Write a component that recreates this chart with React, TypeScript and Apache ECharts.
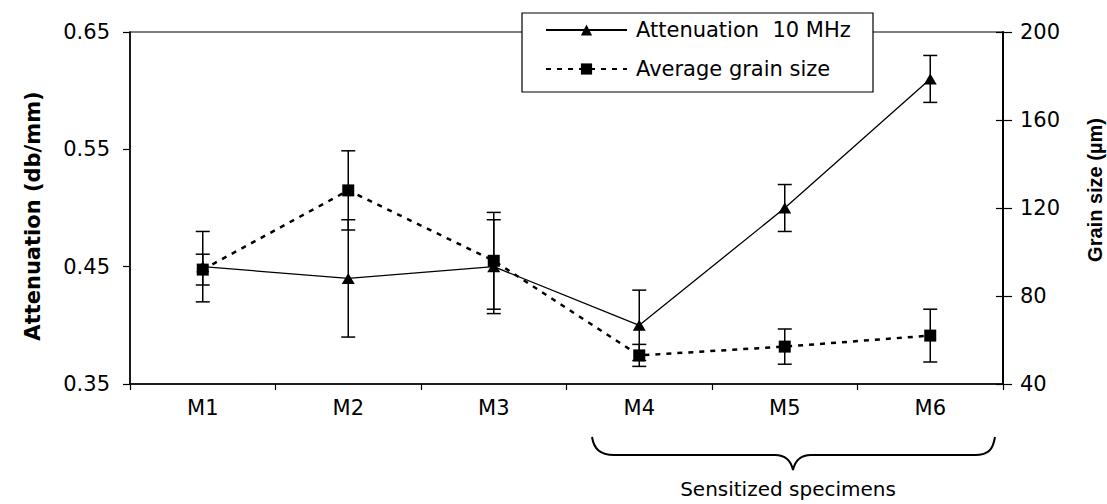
import React, { useEffect, useRef } from "react";
import * as echarts from "echarts";

// Specimens and measured values
const categories = ["M1", "M2", "M3", "M4", "M5", "M6"];
const attenuation = [0.45, 0.44, 0.45, 0.4, 0.5, 0.61];
const attenuationErr = [0.03, 0.05, 0.04, 0.03, 0.02, 0.02];
const grainSize = [92, 128, 96, 53, 57, 62];
const grainSizeErr = [7, 18, 22, 5, 8, 12];

const attenuationName = "Attenuation  10 MHz";
const grainName = "Average grain size";
const groupLabel = "Sensitized specimens";

// Curly brace under the sensitized specimens (M4–M6)
const braceD =
  "M0 0 C2 12 8 18 22 18 L183 18 C193 18 199 24 201 33 C203 24 209 18 219 18 L383 18 C397 18 401 12 403 0";
echarts.graphic.registerShape("brace", echarts.graphic.extendPath(braceD, {}));

const FONT = "DejaVu Sans";

const errorBarItem = (_params: any, api: any) => {
  const x = api.value(0);
  const lo = api.coord([x, api.value(1)]);
  const hi = api.coord([x, api.value(2)]);
  const half = 7;
  const style = { stroke: "#000", lineWidth: 1.5 };
  return {
    type: "group",
    children: [
      { type: "line", shape: { x1: lo[0], y1: lo[1], x2: hi[0], y2: hi[1] }, style },
      { type: "line", shape: { x1: lo[0] - half, y1: lo[1], x2: lo[0] + half, y2: lo[1] }, style },
      { type: "line", shape: { x1: hi[0] - half, y1: hi[1], x2: hi[0] + half, y2: hi[1] }, style },
    ],
  };
};

export default function App() {
  const ref = useRef<HTMLDivElement>(null);

  useEffect(() => {
    if (!ref.current) return;
    const chart = echarts.init(ref.current, null, { renderer: "svg" });

    const labelStyle = { color: "#000", fontFamily: FONT, fontSize: 21 };

    chart.setOption({
      animation: false,
      backgroundColor: "#fff",
      grid: {
        left: 130,
        right: 104,
        top: 32,
        bottom: 120,
        show: true,
        borderColor: "#000",
        borderWidth: 1.2,
      },
      legend: {
        orient: "vertical",
        left: 545,
        top: 18,
        padding: 0,
        itemWidth: 81,
        itemHeight: 14,
        itemGap: 15,
        data: [attenuationName, grainName],
        textStyle: { ...labelStyle, lineHeight: 24, padding: [0, 0, 0, 4] },
        z: 5,
      },
      xAxis: {
        type: "category",
        data: categories,
        axisLine: { lineStyle: { color: "#000", width: 1.5 } },
        axisTick: { show: true, length: 6, lineStyle: { color: "#000", width: 1.2 } },
        axisLabel: { ...labelStyle, margin: 13 },
        splitLine: { show: false },
      },
      yAxis: [
        {
          type: "value",
          position: "left",
          min: 0.35,
          max: 0.65,
          interval: 0.1,
          axisLine: { show: true, lineStyle: { color: "#000", width: 1.5 } },
          axisTick: { show: true, length: 7, lineStyle: { color: "#000", width: 1.2 } },
          axisLabel: { ...labelStyle, margin: 20, formatter: (v: number) => v.toFixed(2) },
          splitLine: { show: false },
        },
        {
          type: "value",
          position: "right",
          min: 40,
          max: 200,
          interval: 40,
          axisLine: { show: true, lineStyle: { color: "#000", width: 2 } },
          axisTick: { show: true, length: 9, lineStyle: { color: "#000", width: 1.2 } },
          axisLabel: { ...labelStyle, margin: 17 },
          splitLine: { show: false },
        },
        {
          // inner half of the crossing ticks on the grain-size axis
          type: "value",
          position: "right",
          min: 40,
          max: 200,
          interval: 40,
          axisLine: { show: false },
          axisTick: { show: true, inside: true, length: 7, lineStyle: { color: "#000", width: 1.2 } },
          axisLabel: { show: false },
          splitLine: { show: false },
        },
      ],
      series: [
        {
          type: "custom",
          yAxisIndex: 0,
          renderItem: errorBarItem,
          encode: { x: 0, y: [1, 2] },
          data: attenuation.map((v, i) => [i, v - attenuationErr[i], v + attenuationErr[i]]),
          z: 1,
          silent: true,
        },
        {
          type: "custom",
          yAxisIndex: 1,
          renderItem: errorBarItem,
          encode: { x: 0, y: [1, 2] },
          data: grainSize.map((v, i) => [i, v - grainSizeErr[i], v + grainSizeErr[i]]),
          z: 1,
          silent: true,
        },
        {
          name: attenuationName,
          type: "line",
          yAxisIndex: 0,
          data: attenuation,
          symbol: "triangle",
          symbolSize: [13, 11],
          lineStyle: { color: "#000", width: 1.3 },
          itemStyle: { color: "#000" },
          z: 3,
        },
        {
          name: grainName,
          type: "line",
          yAxisIndex: 1,
          data: grainSize,
          symbol: "rect",
          symbolSize: 12,
          lineStyle: { color: "#000", width: 2.5, type: [5, 6] },
          itemStyle: { color: "#000" },
          z: 3,
        },
      ],
      graphic: [
        {
          type: "rect",
          z: 4,
          shape: { x: 522, y: 13, width: 351, height: 79 },
          style: { fill: "#fff", stroke: "#000", lineWidth: 1.2 },
        },
        {
          type: "text",
          x: 33,
          y: 216,
          rotation: Math.PI / 2,
          style: {
            text: "Attenuation (db/mm)",
            fontFamily: FONT,
            fontWeight: "bold",
            fontSize: 21,
            fill: "#000",
            align: "center",
            verticalAlign: "middle",
          },
        },
        {
          type: "text",
          x: 1095,
          y: 190,
          rotation: Math.PI / 2,
          style: {
            text: "Grain size (µm)",
            fontFamily: "Liberation Sans",
            fontWeight: "bold",
            fontSize: 20,
            fill: "#000",
            align: "center",
            verticalAlign: "middle",
          },
        },
        {
          type: "brace",
          x: 592,
          y: 437,
          shape: {},
          style: { fill: "none", stroke: "#000", lineWidth: 2 },
        },
        {
          type: "text",
          x: 788,
          y: 489,
          style: {
            text: groupLabel,
            fontFamily: FONT,
            fontSize: 20,
            fill: "#000",
            align: "center",
            verticalAlign: "middle",
          },
        },
      ],
    });

    return () => chart.dispose();
  }, []);

  return (
    <div
      ref={ref}
      style={{ position: "absolute", left: 0, top: 0, width: 1107, height: 504 }}
    />
  );
}
